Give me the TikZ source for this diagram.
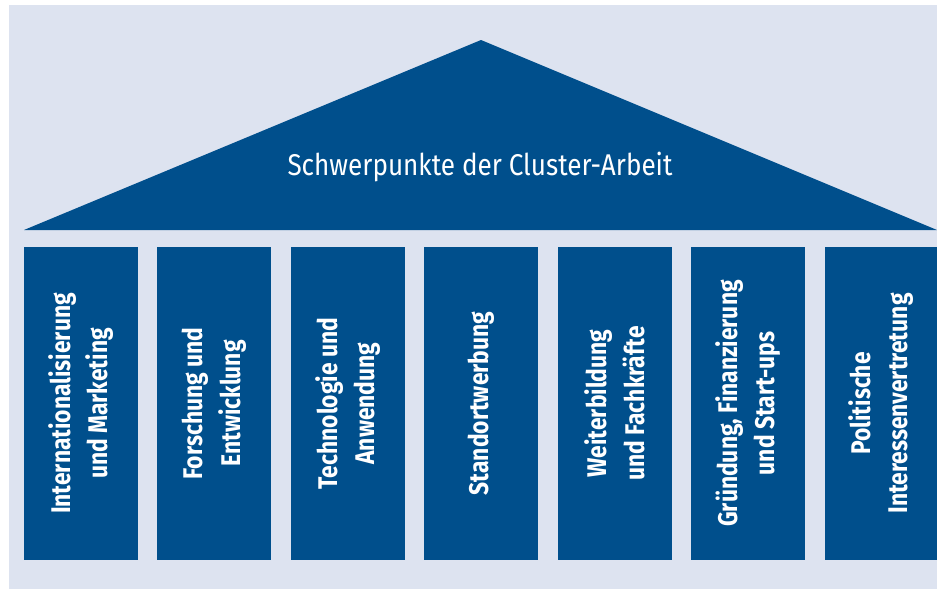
\documentclass[tikz,border=0pt]{standalone}
\usepackage{fontspec}
\setmainfont{Fira Sans}
\newfontfamily\colfont[FakeStretch=0.845]{Fira Sans}
\newfontfamily\titlefont[FakeStretch=0.87]{Fira Sans}
\definecolor{bgblue}{HTML}{DDE3F0}
\definecolor{dblue}{HTML}{004F8C}
\tikzset{
  pillar/.style={fill=dblue, inner sep=0pt, rotate=90, minimum width=313pt, minimum height=114pt,
    text=white, align=center, font=\colfont\bfseries\fontsize{27}{37.5}\selectfont},
  rooftext/.style={text=white, inner sep=0pt, font=\titlefont\fontsize{30}{36}\selectfont}
}
\begin{document}
\begin{tikzpicture}[x=1pt,y=-1pt]
\useasboundingbox (0,0) rectangle (937,589);
\fill[white] (0,0) rectangle (937,589);
\fill[bgblue] (9,5) rectangle (937,589);
\fill[dblue] (24,230) -- (481,40) -- (937,230) -- cycle;
\node[rooftext] (title) at (480,167) {Schwerpunkte der Cluster-Arbeit};
\node[pillar] (c1) at (81,403.5) {Internationalisierung\\und Marketing};
\node[pillar] (c2) at (214,403.5) {Forschung und\\Entwicklung};
\node[pillar] (c3) at (348,403.5) {Technologie und\\Anwendung};
\node[pillar] (c4) at (481,403.5) {Standortwerbung};
\node[pillar] (c5) at (615,403.5) {Weiterbildung\\und Fachkräfte};
\node[pillar] (c6) at (748,403.5) {Gründung, Finanzierung\\und Start-ups};
\node[pillar, minimum height=112pt] (c7) at (881,403.5) {Politische\\Interessenvertretung};
\end{tikzpicture}
\end{document}
